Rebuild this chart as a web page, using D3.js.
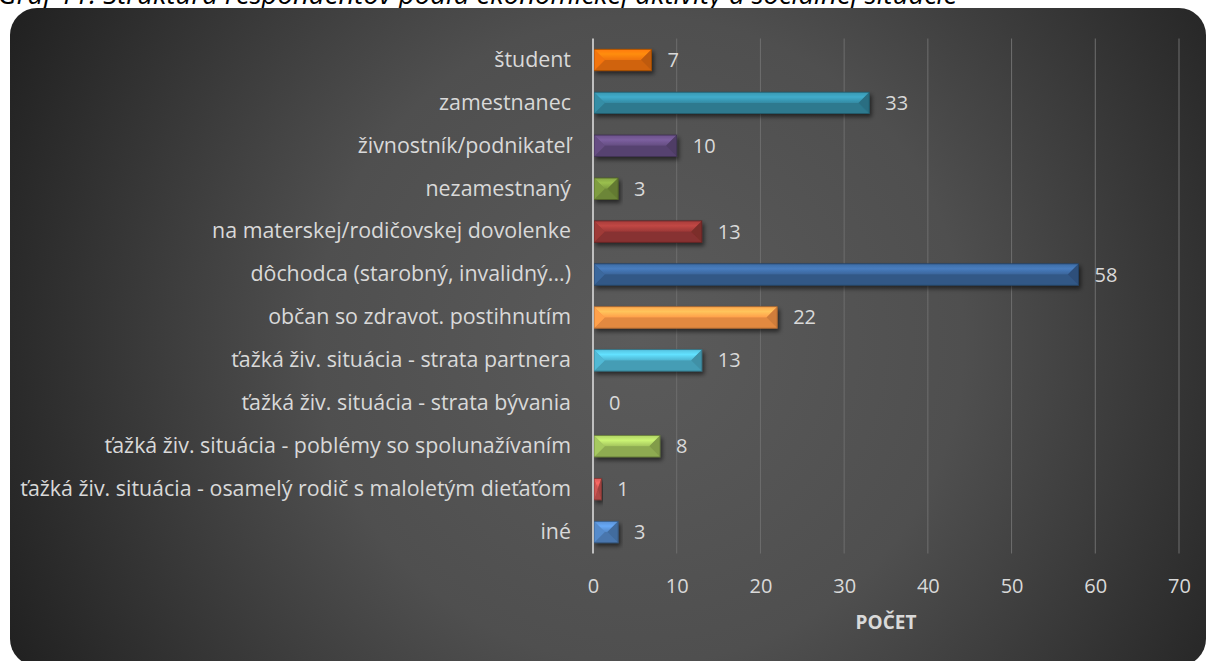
<!DOCTYPE html>
<html>
<head>
<meta charset="utf-8">
<script src="https://cdn.jsdelivr.net/npm/d3@7"></script>
<style>
  html, body { margin: 0; padding: 0; background: #ffffff; overflow: hidden; }
  svg { display: block; }
</style>
</head>
<body>
<div id="chart"></div>
<script>
// data
const categories = [
  "študent",
  "zamestnanec",
  "živnostník/podnikateľ",
  "nezamestnaný",
  "na materskej/rodičovskej dovolenke",
  "dôchodca (starobný, invalidný...)",
  "občan so zdravot. postihnutím",
  "ťažká živ. situácia - strata partnera",
  "ťažká živ. situácia - strata bývania",
  "ťažká živ. situácia - poblémy so spolunažívaním",
  "ťažká živ. situácia - osamelý rodič s maloletým dieťaťom",
  "iné"
];
const values = [7, 33, 10, 3, 13, 58, 22, 13, 0, 8, 1, 3];
const xTicks = [0, 10, 20, 30, 40, 50, 60, 70];
const xTitle = "POČET";
const chartTitle = "Graf 11: Štruktúra respondentov podľa ekonomickej aktivity a sociálnej situácie";

// office palette, first six darker 25%, then the plain accents
const barColors = [
  "#e36c09", "#31849b", "#5f497a", "#76923c", "#943634", "#376092",
  "#f79646", "#4bacc6", "#8064a2", "#9bbb59", "#c0504d", "#4f81bd"
];

const W = 1209, H = 661;
const font = "'Open Sans', 'Noto Sans', sans-serif";
const textCol = "#d9d9d9";

const svg = d3.select("#chart").append("svg")
  .attr("width", W)
  .attr("height", H);

const defs = svg.append("defs");

const bg = defs.append("radialGradient")
  .attr("id", "bgGrad")
  .attr("gradientUnits", "userSpaceOnUse")
  .attr("cx", 640).attr("cy", 340).attr("r", 720);
bg.append("stop").attr("offset", 0).attr("stop-color", "#5b5b5b");
bg.append("stop").attr("offset", 0.45).attr("stop-color", "#4f4f4f");
bg.append("stop").attr("offset", 1).attr("stop-color", "#1f1f1f");

const shadow = defs.append("filter")
  .attr("id", "barShadow")
  .attr("x", "-10%").attr("y", "-40%")
  .attr("width", "130%").attr("height", "190%");
shadow.append("feDropShadow")
  .attr("dx", 2).attr("dy", 3)
  .attr("stdDeviation", 2)
  .attr("flood-color", "#000")
  .attr("flood-opacity", 0.55);

// one gradient per bar colour for the top facet
barColors.forEach((c, i) => {
  const base = d3.color(c);
  const g = defs.append("linearGradient")
    .attr("id", "topGrad" + i)
    .attr("x1", 0).attr("y1", 0).attr("x2", 0).attr("y2", 1);
  g.append("stop").attr("offset", 0).attr("stop-color", base.brighter(0.35));
  g.append("stop").attr("offset", 0.45).attr("stop-color", base.brighter(0.75));
  g.append("stop").attr("offset", 1).attr("stop-color", base.brighter(0.15));
});

// title cut by the top edge, like the source page
const title = svg.append("text")
  .attr("x", -2)
  .attr("y", 4)
  .style("font-family", font)
  .style("font-style", "italic")
  .style("font-size", "21px")
  .style("fill", "#000")
  .text(chartTitle);
const tw = title.node().getComputedTextLength();
title.style("font-size", (21 * 960 / tw) + "px");

// dark panel
svg.append("rect")
  .attr("x", 10).attr("y", 8)
  .attr("width", 1196).attr("height", 658)
  .attr("rx", 27).attr("ry", 27)
  .attr("fill", "url(#bgGrad)");

// scales
const x = d3.scaleLinear()
  .domain([0, 70])
  .range([593, 1179]);

const y = d3.scaleBand()
  .domain(categories)
  .range([38.5, 553.5])
  .paddingInner(0.5)
  .paddingOuter(0.25);

const plotTop = 38.5, plotBottom = 553.5;

// gridlines
svg.append("g")
  .selectAll("line")
  .data(xTicks.filter(t => t > 0))
  .enter()
  .append("line")
    .attr("x1", d => x(d)).attr("x2", d => x(d))
    .attr("y1", plotTop).attr("y2", plotBottom)
    .attr("stroke", "#6e6e6e")
    .attr("stroke-width", 1);

// bottom axis labels (no line, like the source)
const xAxis = svg.append("g")
  .attr("transform", `translate(0, ${plotBottom})`)
  .call(d3.axisBottom(x).tickValues(xTicks).tickSize(0).tickPadding(0));
xAxis.select(".domain").remove();
xAxis.selectAll("text")
  .attr("y", 39)
  .attr("dy", 0)
  .style("font-family", font)
  .style("font-size", "20px")
  .style("fill", textCol);

svg.append("text")
  .attr("x", (x(0) + x(70)) / 2)
  .attr("y", 629)
  .attr("text-anchor", "middle")
  .style("font-family", font)
  .style("font-weight", "bold")
  .style("font-size", "19px")
  .style("fill", textCol)
  .text(xTitle);

// category labels
const yAxis = svg.append("g")
  .attr("transform", `translate(${x(0)}, 0)`)
  .call(d3.axisLeft(y).tickSize(0).tickPadding(22));
yAxis.select(".domain").remove();
yAxis.selectAll("text")
  .style("font-family", font)
  .style("font-size", "19px")
  .style("fill", textCol);

// fit the longest label into the width it has in the picture
let longest = 0;
yAxis.selectAll("text").each(function() {
  longest = Math.max(longest, this.getComputedTextLength());
});
const fitSize = 19 * 551 / longest;
yAxis.selectAll("text").style("font-size", fitSize + "px");

// bars with a pyramid bevel
const bars = svg.append("g")
  .selectAll("g")
  .data(categories.map((c, i) => ({ cat: c, val: values[i], i: i })))
  .enter()
  .append("g")
    .attr("filter", "url(#barShadow)");

bars.filter(d => d.val > 0).each(function(d) {
  const g = d3.select(this);
  const x0 = x(0) + 1, x1 = x(d.val);
  const y0 = y(d.cat), y1 = y(d.cat) + y.bandwidth();
  const ym = (y0 + y1) / 2;
  const b = Math.min(y.bandwidth() / 2, (x1 - x0) / 2);
  const base = d3.color(barColors[d.i]);
  const pt = p => p.map(q => q.join(",")).join(" ");

  g.append("rect")
    .attr("x", x0).attr("y", y0)
    .attr("width", x1 - x0).attr("height", y1 - y0)
    .attr("fill", base);
  // top facet
  g.append("polygon")
    .attr("points", pt([[x0, y0], [x1, y0], [x1 - b, ym], [x0 + b, ym]]))
    .attr("fill", `url(#topGrad${d.i})`);
  // bottom facet
  g.append("polygon")
    .attr("points", pt([[x0, y1], [x1, y1], [x1 - b, ym], [x0 + b, ym]]))
    .attr("fill", base.darker(0.25));
  // left end
  g.append("polygon")
    .attr("points", pt([[x0, y0], [x0 + b, ym], [x0, y1]]))
    .attr("fill", base.brighter(0.2));
  // right end
  g.append("polygon")
    .attr("points", pt([[x1, y0], [x1 - b, ym], [x1, y1]]))
    .attr("fill", base.darker(0.5));
  // thin dark rim
  g.append("rect")
    .attr("x", x0).attr("y", y0)
    .attr("width", x1 - x0).attr("height", y1 - y0)
    .attr("fill", "none")
    .attr("stroke", base.darker(1.2))
    .attr("stroke-width", 0.8);
});

// value axis line at 0
svg.append("line")
  .attr("x1", x(0)).attr("x2", x(0))
  .attr("y1", plotTop).attr("y2", plotBottom)
  .attr("stroke", "#bfbfbf")
  .attr("stroke-width", 2);

// value labels
svg.append("g")
  .selectAll("text")
  .data(categories.map((c, i) => ({ cat: c, val: values[i] })))
  .enter()
  .append("text")
    .attr("x", d => x(d.val) + 16)
    .attr("y", d => y(d.cat) + y.bandwidth() / 2)
    .attr("dy", "0.35em")
    .style("font-family", font)
    .style("font-size", "20px")
    .style("fill", textCol)
    .text(d => d.val);
</script>
</body>
</html>
